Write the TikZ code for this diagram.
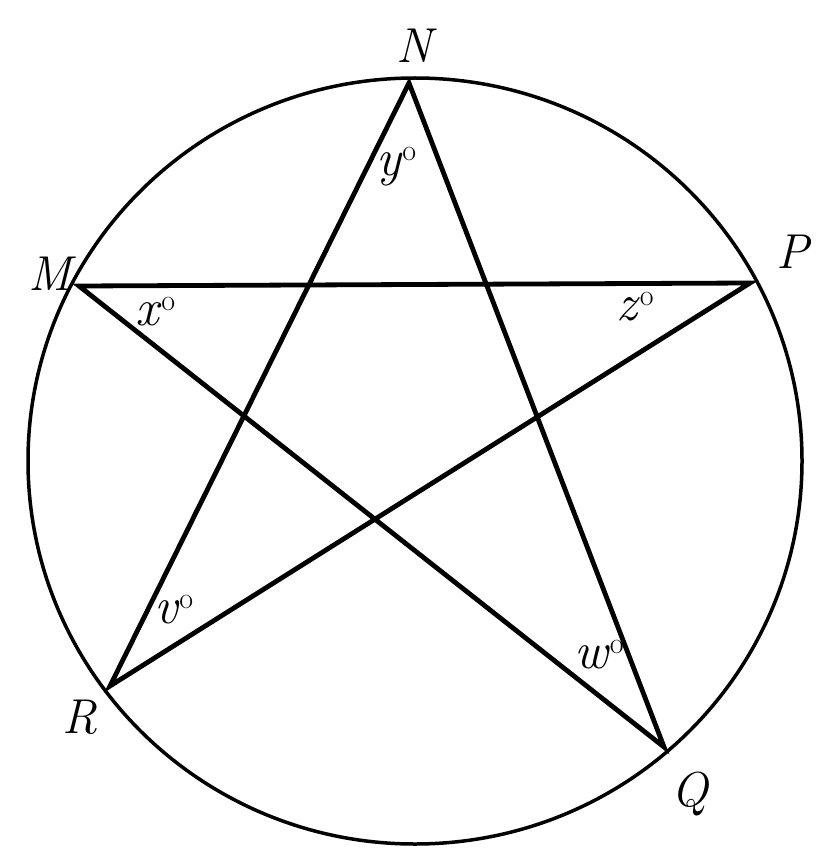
\documentclass[tikz,border=0pt]{standalone}
\newcommand\angsup{\raisebox{15pt}{\fontsize{30}{30}\selectfont\upshape o}}
\tikzset{
  star/.style={line width=4.8pt, line join=miter},
  rim/.style={line width=3.5pt},
  ptlabel/.style={anchor=base west, inner sep=0pt, font=\fontsize{49}{49}\selectfont\itshape},
  anglabel/.style={anchor=base west, inner sep=0pt, font=\fontsize{52}{52}\selectfont}
}
\begin{document}
\begin{tikzpicture}[x=1pt,y=-1pt]
\useasboundingbox (0,0) rectangle (838,850);
\coordinate (O) at (415,461);
\coordinate (N) at (409,83);
\coordinate (M) at (79,286);
\coordinate (P) at (750,283);
\coordinate (R) at (110,686);
\coordinate (Q) at (664,747);
\draw[rim] (O) ellipse [x radius=387, y radius=383];
\draw[star] (N) -- (R) -- (P) -- (M) -- (Q) -- cycle;
\node[ptlabel] (lN) at (396,63) {N};
\node[ptlabel] (lM) at (28,290) {M};
\node[ptlabel] (lP) at (776,268) {P};
\node[ptlabel] (lR) at (62,733) {R};
\node[ptlabel] (lQ) at (671,806) {Q};
\node[anglabel] (ly) at (376,176) {\textit{y}\angsup};
\node[anglabel] (lx) at (135,325) {\textit{x}\angsup};
\node[anglabel] (lz) at (616,320) {\textit{z}\angsup};
\node[anglabel] (lv) at (154,623) {\textit{v}\angsup};
\node[anglabel] (lw) at (574,668) {\textit{w}\angsup};
\end{tikzpicture}
\end{document}
